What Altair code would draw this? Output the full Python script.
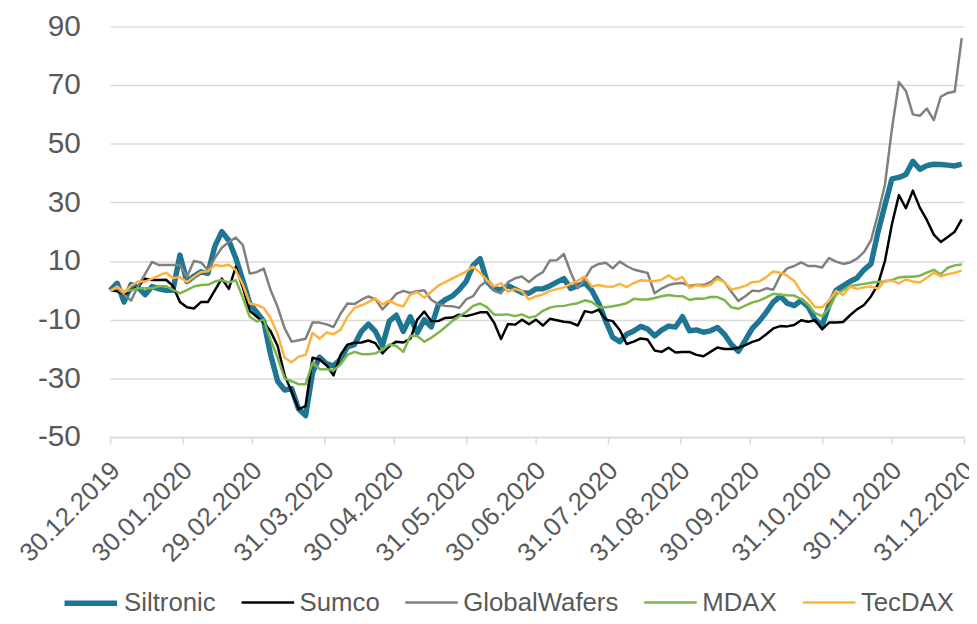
import altair as alt
import pandas as pd

# ---------------- data ----------------
SERIES = ["Siltronic", "Sumco", "GlobalWafers", "MDAX", "TecDAX"]
COLORS = ["#1E7594", "#000000", "#808080", "#7AB648", "#FFB13D"]
WIDTHS = [5.5, 2.5, 2.5, 2.5, 2.5]

START_DATE = "2019-12-30"   # values every 3 days from here
STEP = "3D"

SILTRONIC = [
    0, 2.4, -4, 2, 1, -1.5, 1.3, 0.5, 0, 0,
    12, 3, 4.8, 6.3, 5.8, 15, 20, 17, 11, 3.5,
    -4.5, -7.5, -10.5, -22, -31, -34, -33.5, -40.5, -42.7, -28,
    -22.8, -25, -25.8, -23.5, -19.3, -18.5, -14, -11.5, -14, -18.9,
    -10.5, -8.5, -14, -9, -14.5, -10, -12.5, -5, -3.2, -2,
    0.2, 3, 8.5, 10.8, 3, 0.5, 0.2, 1.6, 0.4, -0.8,
    -1, 0.5, 0.5, 1.5, 2.8, 4, 0.6, 1.6, 2.5, 0,
    -4.5, -10.5, -16, -17.5, -15, -13.9, -12.3, -13.2, -15.5, -13.6,
    -12.2, -12.5, -9, -13.8, -13.5, -14.3, -13.8, -12.7, -15, -18.5,
    -20.8, -17, -13, -10.5, -7.5, -4, -2, -4.4, -5.2, -3.5,
    -5.6, -10, -12, -5, 0, 1.5, 3, 4.2, 7, 9,
    19.8, 29, 38, 38.5, 39.5, 44, 41.3, 42.5, 43, 42.9,
    42.7, 42.4, 43,
]
SUMCO = [
    0, -0.3, -1.5, 0, 1.2, 4, 3.5, 3.5, 3.6, 1.5,
    -4, -5.8, -6.2, -4, -4, 0, 4, 0.5, 8, 1,
    -7, -9, -11, -14, -19, -29, -34.5, -40.5, -39.5, -23,
    -23.6, -25.5, -29, -22, -18.5, -17.9, -17.8, -17.1, -18, -21.5,
    -19, -17.5, -17.8, -16.5, -10, -7.2, -10.5, -10.5, -9.4, -9.3,
    -8.3, -8.8, -8.2, -7.5, -7.5, -11, -16.6, -11.5, -11.7, -10,
    -11.6, -10, -12, -9.7, -10.2, -10.7, -11, -12, -7.1, -7.6,
    -6.6, -10, -10.5, -13.5, -18.3, -17.5, -16.4, -16.8, -20.5, -21,
    -19.6, -21.2, -21, -21, -22, -22.5, -21, -19.5, -20, -20,
    -19.6, -18.7, -17.6, -16.8, -15, -13, -12.2, -12.3, -11.8, -10.2,
    -10.7, -10.2, -13.3, -11, -11, -10.8, -8.5, -6.5, -5, -2.1,
    2, 10, 22.5, 32.5, 28, 34, 28.2, 24, 19, 16.5,
    18.2, 20, 24.2,
]
GLOBALWAFERS = [
    0, 0.7, -1.5, -3.5, 1.5, 5.5, 9.7, 8.6, 8.6, 8.6,
    8.6, 4.5, 10, 9.5, 7, 11, 14.5, 16.5, 18, 15.5,
    5.7, 6.2, 7.4, 0, -5.7, -13, -17.5, -17, -16.5, -11,
    -11, -11.6, -12.5, -8, -4.5, -4.7, -3.2, -2.1, -3, -6.5,
    -4, -1.2, -0.2, -0.9, -0.3, 0, -3.2, -4.7, -5.3, -5.4,
    -6, -3.1, -2, 1.5, 3.2, -0.2, -1, 2.8, 4.1, 4.7,
    2.8, 4.8, 6.2, 10.2, 10.3, 12.4, 6, 0.7, 4, 7.8,
    9, 9.4, 7.5, 9.8, 8.3, 7.1, 6.5, 5.9, -1, 0.6,
    1.8, 2.3, 2.5, 1.5, 1.9, 1.8, 2.8, 4.7, 2.8, -0.5,
    -3.6, -2, -0.1, -0.3, 0.7, 0.2, 5, 7.5, 8.3, 9.5,
    8.3, 8.3, 7.8, 11, 9.8, 9, 9.5, 10.8, 13, 17,
    26, 36, 55, 71, 68, 60, 59.5, 62, 58, 66,
    67.3, 67.8, 86,
]
MDAX = [
    0, 1.2, -0.5, 0, 0.7, 0.7, 0.7, 1.4, 1.4, 0.2,
    -1, 0.1, 1.3, 1.8, 1.9, 3, 3.5, 2.6, 3.5, -2.5,
    -9, -10.6, -10, -17, -23, -30, -31, -32, -32, -24.7,
    -26.9, -26.9, -27.3, -25.3, -22, -21, -21.7, -21.8, -21.5, -20.3,
    -18.5, -19, -21, -15.5, -15.6, -17.5, -16.2, -14.5, -12.6, -10.5,
    -8.8, -7.4, -5.3, -4.5, -5.8, -8.3, -8.3, -8.2, -8.8, -8.2,
    -9.3, -8.8, -7, -5.9, -5.4, -5.3, -4.8, -4.4, -3.4, -4,
    -5.7, -5.8, -5.4, -5, -4.4, -2.9, -3.1, -3.1, -2.6, -2,
    -1.6, -1.9, -2, -3.3, -2.8, -2.9, -2.3, -2.3, -3.3, -5.8,
    -6.3, -5.2, -4.1, -3.5, -2.4, -1.2, -1.5, -1.7, -1.8, -3,
    -4.9, -7.8, -8.8, -6, -1.5, 0, 1.5, 1.8, 2.2, 2.6,
    2.9, 3, 3.5, 4.4, 4.6, 4.6, 5, 6, 7, 5.5,
    7.7, 8.5, 8.8,
]
TECDAX = [
    -0.4, 1.3, -0.8, 1.6, 3, 3, 4, 5, 6, 4.2,
    4.5, 2.8, 4.6, 6.2, 6.5, 8.6, 8.3, 8.7, 6.9, 2,
    -4.5, -5, -6, -9.5, -15, -23, -24.5, -22.6, -22, -14.5,
    -16.5, -14.4, -15, -13.5, -9, -6, -5.1, -4, -2.8, -4.8,
    -3.5, -4.8, -5.5, -1.5, -0.6, -2.5, -0.5, 1.6, 2.8, 4,
    5.2, 6.4, 8.1, 6, 3.3, 1.3, 2.5, -0.5, 0.5, -0.3,
    -3.1, -2, -1.4, -0.2, 0.4, 1, 2.2, 3.3, 4.7, 1.3,
    1.8, 1.3, 1.2, 2.2, 1.1, 2.5, 3.4, 3.3, 3.1, 3.6,
    5.1, 3.6, 4.5, 0.8, 1.8, 1.3, 1.9, 3.9, 2.8, 0.3,
    0.8, 1.5, 2.8, 3, 4.5, 6.4, 6, 5, 3.2, -0.5,
    -2.8, -5.8, -5.8, -3.5, -0.2, -1.6, 1.2, 0.5, 1, 1.3,
    0.6, 3.3, 3.3, 2.4, 3.7, 3, 2.7, 4.3, 6, 4.8,
    5.5, 6, 6.7,
]

TICK_DATES = [(2019, 12, 30), (2020, 1, 30), (2020, 2, 29), (2020, 3, 31),
              (2020, 4, 30), (2020, 5, 31), (2020, 6, 30), (2020, 7, 31),
              (2020, 8, 31), (2020, 9, 30), (2020, 10, 31), (2020, 11, 30),
              (2020, 12, 31)]
Y_TICKS = [-50, -30, -10, 10, 30, 50, 70, 90]
Y_DOMAIN = [-50, 90]

# ---------------- build table ----------------
VALUES = [SILTRONIC, SUMCO, GLOBALWAFERS, MDAX, TECDAX]
rows = []
for name, vals in zip(SERIES, VALUES):
    dates = pd.date_range(START_DATE, periods=len(vals), freq=STEP).strftime("%Y-%m-%d")
    for d, v in zip(dates, vals):
        rows.append({"date": d, "series": name, "value": v})
df = pd.DataFrame(rows)


def dt(t):
    return alt.DateTime(year=t[0], month=t[1], date=t[2], utc=True)


FONT = "Liberation Sans"
TXT = "#595959"
GRID = "#D9D9D9"

legend = alt.Legend(
    title=None, orient="none", direction="horizontal",
    legendX=-49, legendY=552,
    symbolType="stroke", symbolSize=2809,
    labelFont=FONT, labelFontSize=26, labelColor=TXT,
    labelOffset=4, columnPadding=20, padding=0,
)

chart = (
    alt.Chart(df)
    .mark_line(strokeJoin="round")
    .encode(
        x=alt.X(
            "date:T",
            scale=alt.Scale(type="utc", domain=[dt(TICK_DATES[0]), dt(TICK_DATES[-1])]),
            axis=alt.Axis(
                values=[dt(t) for t in TICK_DATES],
                labelExpr="utcFormat(datum.value, '%d.%m.%Y')",
                labelAngle=-45, labelAlign="right", labelBaseline="top",
                labelPadding=13, labelOffset=-4,
                labelFont=FONT, labelFontSize=26, labelColor=TXT,
                grid=False, domainColor=GRID, domainWidth=1.5,
                tickColor=GRID, tickWidth=1.5, tickSize=7,
                labelOverlap=False, labelBound=False, title=None,
            ),
        ),
        y=alt.Y(
            "value:Q",
            scale=alt.Scale(domain=Y_DOMAIN, nice=False, zero=False),
            axis=alt.Axis(
                values=Y_TICKS, domain=False, ticks=False,
                labelExpr="'' + datum.value",
                labelPadding=30, labelFont=FONT, labelFontSize=30, labelColor=TXT,
                gridColor=GRID, gridWidth=1.5, title=None,
            ),
        ),
        color=alt.Color("series:N", scale=alt.Scale(domain=SERIES, range=COLORS), legend=legend),
        strokeWidth=alt.StrokeWidth(
            "series:N", scale=alt.Scale(type="ordinal", domain=SERIES, range=WIDTHS), legend=legend
        ),
    )
    .properties(
        width=861, height=414,
        autosize=alt.AutoSizeParams(type="none"),
        padding={"left": 103, "top": 16, "right": 5, "bottom": 178},
    )
    .configure_view(stroke=None)
)

chart.save("out.html", embed_options={"renderer": "svg", "actions": False})
